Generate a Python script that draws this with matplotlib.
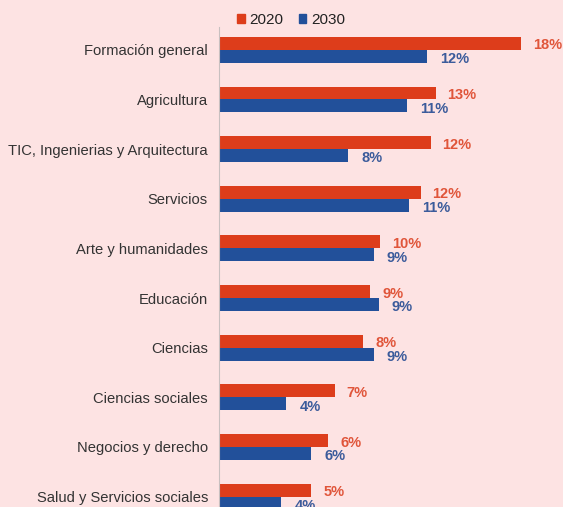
import numpy as np
import matplotlib.pyplot as plt
from matplotlib.patches import Patch

categories = ['Formación general', 'Agricultura', 'TIC, Ingenierias y Arquitectura',
              'Servicios', 'Arte y humanidades', 'Educación', 'Ciencias',
              'Ciencias sociales', 'Negocios y derecho', 'Salud y Servicios sociales']
vals_2020 = [18.0, 12.9, 12.6, 12.0, 9.6, 9.0, 8.6, 6.9, 6.5, 5.5]
vals_2030 = [12.4, 11.2, 7.7, 11.3, 9.2, 9.5, 9.2, 4.0, 5.5, 3.7]
labels_2020 = ['18%', '13%', '12%', '12%', '10%', '9%', '8%', '7%', '6%', '5%']
labels_2030 = ['12%', '11%', '8%', '11%', '9%', '9%', '9%', '4%', '6%', '4%']

bg = '#fde3e3'
c20 = '#dd3d1b'
c30 = '#22509a'
t20 = '#e0553a'
t30 = '#3b5b9b'

plt.rcParams['font.family'] = ['Liberation Sans', 'DejaVu Sans']

fig = plt.figure(figsize=(5.63, 5.07), dpi=100, facecolor=bg)
W, H = 563, 507
ax = fig.add_axes([219 / W, 0, 1 - 219 / W, (H - 27) / H])
ax.set_facecolor(bg)

y = np.arange(len(categories))
h = 0.26
ax.barh(y - h / 2, vals_2020, height=h, color=c20)
ax.barh(y + h / 2, vals_2030, height=h, color=c30)

for i in range(len(categories)):
    ax.annotate(labels_2020[i], (vals_2020[i], y[i] - h / 2), xytext=(8.5, -1.5),
                textcoords='offset points', va='center', ha='left',
                fontsize=10.5, fontweight='bold', color=t20)
    ax.annotate(labels_2030[i], (vals_2030[i], y[i] + h / 2), xytext=(9.5, -2),
                textcoords='offset points', va='center', ha='left',
                fontsize=10.5, fontweight='bold', color=t30)

ax.set_xlim(0, (W - 219) / 16.8)
ax.set_ylim(9.21, -0.46)
ax.set_yticks(y)
ax.set_yticklabels(categories, fontsize=10.6, color='#333333')
ax.tick_params(axis='y', length=0, pad=8)
ax.set_xticks([])
for s in ['top', 'right', 'bottom']:
    ax.spines[s].set_visible(False)
ax.spines['left'].set_color('#c8c0c0')
ax.spines['left'].set_linewidth(0.8)

handles = [Patch(color=c20, label='2020'), Patch(color=c30, label='2030')]
fig.legend(handles=handles, loc='center', bbox_to_anchor=(291 / W, 1 - 20 / H),
           ncol=2, frameon=False, fontsize=11, handlelength=0.5, handleheight=0.5,
           handletextpad=0.3, columnspacing=1.0, labelcolor='#222222')

fig.text(285 / W, 1 + 4 / H, '2020 - 2030', ha='center', va='center',
         fontsize=9, color='#9a9a9a')

fig.savefig('out.png', dpi=100, facecolor=bg)
